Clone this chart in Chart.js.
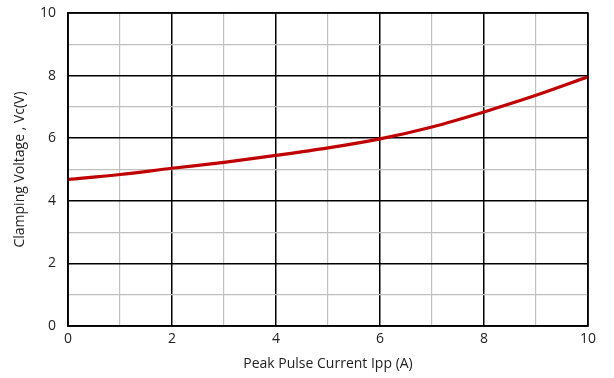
<!DOCTYPE html>
<html>
<head>
<meta charset="utf-8">
<script src="https://cdn.jsdelivr.net/npm/chart.js@4/dist/chart.umd.min.js"></script>
<style>
  html, body { margin: 0; padding: 0; background: #fff; }
  #wrap { width: 614px; height: 378px; }
</style>
</head>
<body>
<div id="wrap"><canvas id="myChart" width="614" height="378"></canvas></div>
<script>
const currentIpp = [0, 1, 2, 3, 4, 5, 6, 7, 8, 9, 10];
const clampVoltage = [4.68, 4.84, 5.04, 5.23, 5.45, 5.69, 5.98, 6.36, 6.84, 7.37, 7.96];
const xTickLabels = ['0', '2', '4', '6', '8', '10'];
const yTickLabels = ['0', '2', '4', '6', '8', '10'];

const points = currentIpp.map((x, i) => ({ x: x, y: clampVoltage[i] }));

const font = { family: '"Open Sans", Lato, sans-serif', size: 14 };

const gridColor = ctx => (ctx.tick.value % 2 === 0 ? '#000000' : '#c0c0c0');
const gridWidth = ctx => (ctx.tick.value % 2 === 0 ? 1.5 : 1.2);

const data = {
    datasets: [{
        label: 'Vc',
        data: points,
        borderColor: '#c00000',
        borderWidth: 3.2,
        pointRadius: 0,
        showLine: true,
        cubicInterpolationMode: 'monotone',
        fill: false
    }]
};

const config = {
    type: 'scatter',
    data: data,
    options: {
        responsive: false,
        animation: false,
        layout: { padding: { top: 13, right: 26, left: 12, bottom: 6 } },
        plugins: { legend: { display: false }, tooltip: { enabled: false } },
        scales: {
            x: {
                type: 'linear',
                min: 0, max: 10,
                ticks: {
                    stepSize: 1,
                    color: '#222',
                    font: font,
                    maxRotation: 0,
                    padding: 5,
                    callback: v => (xTickLabels.includes(String(v)) ? String(v) : '')
                },
                grid: { color: gridColor, lineWidth: gridWidth, drawTicks: false },
                border: { color: '#000', width: 1.5 },
                title: { display: true, text: 'Peak Pulse Current Ipp (A)', color: '#222', font: font, padding: { top: 2, bottom: 0 } },
                afterFit: s => { s.height = 46; }
            },
            y: {
                min: 0, max: 10,
                ticks: {
                    stepSize: 1,
                    color: '#222',
                    font: font,
                    padding: 12,
                    callback: v => (yTickLabels.includes(String(v)) ? String(v) : '')
                },
                grid: { color: gridColor, lineWidth: gridWidth, drawTicks: false },
                border: { color: '#000', width: 1.5 },
                title: { display: true, text: 'Clamping Voltage , Vc(V)', color: '#222', font: font, padding: { top: 0, bottom: 4 } },
                afterFit: s => { s.width = 56; s.paddingTop = 0; s.paddingBottom = 0; }
            }
        }
    },
    plugins: [{
        id: 'frame',
        afterDatasetsDraw(chart) {
            const a = chart.chartArea, c = chart.ctx;
            c.save();
            c.strokeStyle = '#000';
            c.lineWidth = 1.5;
            c.strokeRect(a.left, a.top, a.right - a.left, a.bottom - a.top);
            c.restore();
        }
    }]
};

const myChart = new Chart(document.getElementById('myChart'), config);
</script>
</body>
</html>
